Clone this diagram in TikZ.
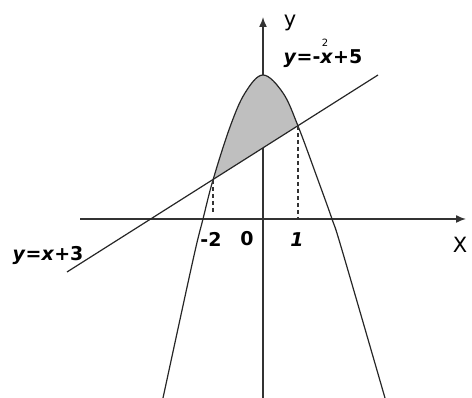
\documentclass[tikz,border=0pt]{standalone}
\usepackage{fontspec}
\setmainfont{DejaVu Sans}
\usetikzlibrary{arrows.meta,positioning}

\begin{document}
\begin{tikzpicture}[
    x=1pt, y=1pt,
    axis/.style={-{Latex[length=10pt,width=8pt]}, line width=1.5pt, black!80},
    curve/.style={line width=1.2pt, black!85},
    guide/.style={line width=1.1pt, black!80, dash pattern=on 4pt off 3pt},
    lbl/.style={font=\fontsize{19}{21}\selectfont\bfseries, inner sep=0pt},
    axlbl/.style={font=\fontsize{21}{23}\selectfont, inner sep=0pt}
]
\useasboundingbox (0,0) rectangle (472,398);

% axes
\coordinate (xl) at (80,179);
\coordinate (xr) at (466,179);
\coordinate (yb) at (263,0);
\coordinate (yt) at (263,381);
\draw[axis] (xl) -- (xr);
\draw[axis] (yb) -- (yt);

% line ends and intersection points
\coordinate (ll) at (67,126);
\coordinate (lr) at (378,323);
\coordinate (pA) at (213,218);
\coordinate (pB) at (298,272);
\coordinate (fA) at (213,186);
\coordinate (fB) at (298,179);

% shaded region between line and parabola
\begin{scope}
  \clip (60,121.6) -- (390,330.6) -- (390,400) -- (60,400) -- cycle;
  \fill[gray!50] plot[smooth, tension=0.6] coordinates {(163,0) (193,138) (203,179) (213,218) (230,271) (245,305) (263,323) (283,305) (298,272) (318,218) (332,179) (342,148) (385,0)} -- cycle;
\end{scope}

% parabola
\draw[curve] plot[smooth, tension=0.6] coordinates {(163,0) (193,138) (203,179) (213,218) (230,271) (245,305) (263,323) (283,305) (298,272) (318,218) (332,179) (342,148) (385,0)};

% line
\draw[curve] (ll) -- (lr);

% guides
\draw[guide] (pA) -- (fA);
\draw[guide] (pB) -- (fB);

% labels
\node[axlbl] (ylab) at (290,375) {y};
\node[axlbl] (xlab) at (460,153) {X};
\node[lbl] (eqp) at (323,339) {\textit{y}=-\textit{x}+5};
\node[font=\fontsize{10}{10}\selectfont, inner sep=0pt] (sq) at (325,355) {2};
\node[lbl] (eql) at (48,142) {\textit{y}=\textit{x}+3};
\node[lbl] (tA) at (211,159) {-2};
\node[lbl] (tO) at (247,159) {0};
\node[lbl] (tB) at (297,158) {\textit{1}};
\end{tikzpicture}
\end{document}
